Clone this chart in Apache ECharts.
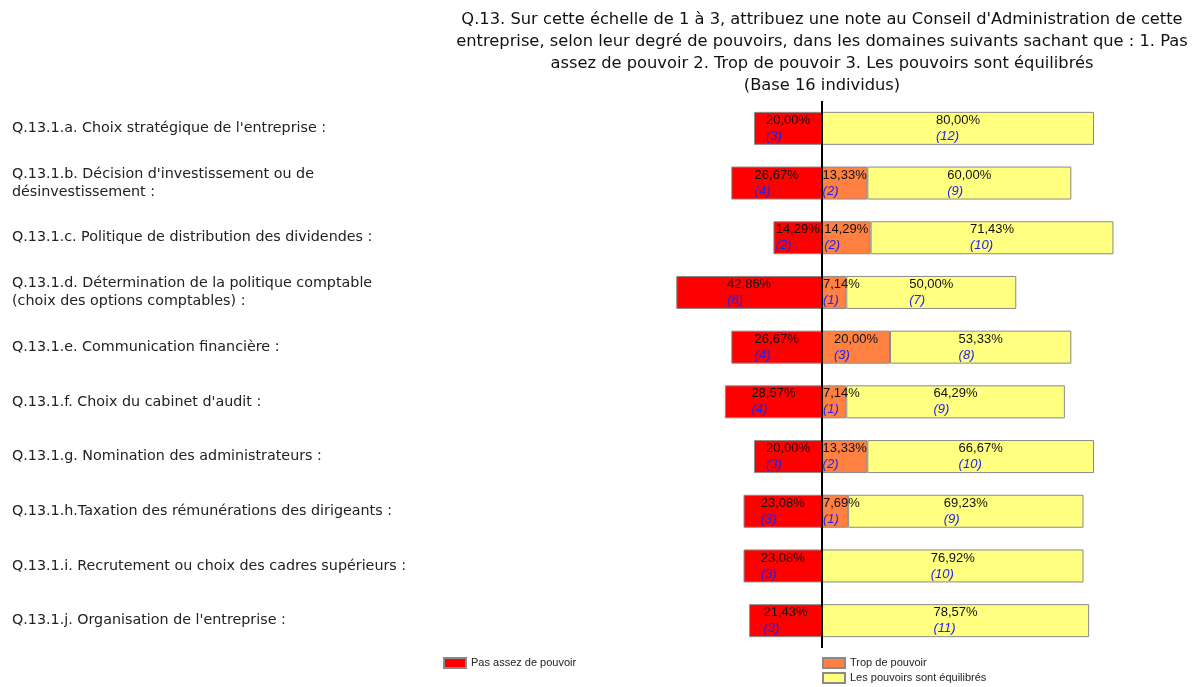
<!DOCTYPE html>
<html>
<head>
<meta charset="utf-8">
<script src="https://cdn.jsdelivr.net/npm/echarts@6/dist/echarts.min.js"></script>
<style>
  html, body { margin: 0; padding: 0; background: #fff; }
  #chart { width: 1192px; height: 687px; }
</style>
</head>
<body>
<div id="chart"></div>
<script>
// Q.13 - pouvoir du Conseil d'Administration (base 16 individus)
var categories = [
  "Q.13.1.a. Choix stratégique de l'entreprise :",
  "Q.13.1.b. Décision d'investissement ou de\ndésinvestissement :",
  "Q.13.1.c. Politique de distribution des dividendes :",
  "Q.13.1.d. Détermination de la politique comptable\n(choix des options comptables) :",
  "Q.13.1.e. Communication financière :",
  "Q.13.1.f. Choix du cabinet d'audit :",
  "Q.13.1.g. Nomination des administrateurs :",
  "Q.13.1.h.Taxation des rémunérations des dirigeants :",
  "Q.13.1.i. Recrutement ou choix des cadres supérieurs :",
  "Q.13.1.j. Organisation de l'entreprise :"
];
var pasAssez = [20.00, 26.67, 14.29, 42.86, 26.67, 28.57, 20.00, 23.08, 23.08, 21.43];
var pasAssezN = [3, 4, 2, 6, 4, 4, 3, 3, 3, 3];
var trop = [0, 13.33, 14.29, 7.14, 20.00, 7.14, 13.33, 7.69, 0, 0];
var tropN = [0, 2, 2, 1, 3, 1, 2, 1, 0, 0];
var equilibre = [80.00, 60.00, 71.43, 50.00, 53.33, 64.29, 66.67, 69.23, 76.92, 78.57];
var equilibreN = [12, 9, 10, 7, 8, 9, 10, 9, 10, 11];

var titleText = "Q.13. Sur cette échelle de 1 à 3, attribuez une note au Conseil d'Administration de cette\n" +
  "entreprise, selon leur degré de pouvoirs, dans les domaines suivants sachant que : 1. Pas\n" +
  "assez de pouvoir 2. Trop de pouvoir 3. Les pouvoirs sont équilibrés\n(Base 16 individus)";

function fmt(v) {
  return v.toFixed(2).replace(".", ",") + "%";
}

// étiquette : pourcentage + effectif en bleu italique, lignes calées à gauche
function makeLabel(values, counts) {
  return {
    show: true,
    position: "inside",
    formatter: function (p) {
      var i = p.dataIndex;
      return "{p|" + fmt(values[i]) + "}\n{n|(" + counts[i] + ")}";
    },
    rich: {
      p: { align: "left", fontSize: 13, color: "#111", fontFamily: "Liberation Sans", lineHeight: 16 },
      n: { align: "left", fontSize: 13, color: "#2222ee", fontStyle: "italic", fontFamily: "Liberation Sans", lineHeight: 16 }
    }
  };
}

var barStyle = function (color) {
  return { color: color, borderColor: "#8a8a8a", borderWidth: 1 };
};

var legendText = { fontFamily: "Liberation Sans", fontSize: 11, color: "#222" };

var myChart = echarts.init(document.getElementById("chart"));

var option = {
  backgroundColor: "#fff",
  animation: false,
  title: {
    text: titleText,
    left: 817,
    top: 4,
    textAlign: "center",
    textStyle: {
      fontFamily: "DejaVu Sans",
      fontSize: 16.3,
      fontWeight: "normal",
      color: "#111",
      lineHeight: 22
    }
  },
  legend: [
    {
      left: 438,
      top: 652,
      itemWidth: 22,
      itemHeight: 10,
      icon: "rect",
      textStyle: legendText,
      data: ["Pas assez de pouvoir"]
    },
    {
      left: 817,
      top: 652,
      itemWidth: 22,
      itemHeight: 10,
      icon: "rect",
      textStyle: legendText,
      data: ["Trop de pouvoir"]
    },
    {
      left: 817,
      top: 667,
      itemWidth: 22,
      itemHeight: 10,
      icon: "rect",
      textStyle: legendText,
      data: ["Les pouvoirs sont équilibrés"]
    }
  ],
  grid: {
    left: 652,
    right: 30,
    top: 101,
    bottom: 39,
    outerBoundsMode: "none"
  },
  xAxis: {
    type: "value",
    min: -50,
    max: 100,
    show: false
  },
  yAxis: {
    type: "category",
    inverse: true,
    data: categories,
    axisLine: { show: false },
    axisTick: { show: false },
    axisLabel: {
      align: "left",
      margin: 640,
      fontFamily: "DejaVu Sans",
      fontSize: 14.3,
      color: "#222",
      lineHeight: 18
    }
  },
  series: [
    {
      name: "Pas assez de pouvoir",
      type: "bar",
      stack: "total",
      barWidth: 33,
      itemStyle: barStyle("#ff0000"),
      label: makeLabel(pasAssez, pasAssezN),
      data: pasAssez.map(function (v) { return -v; }),
      markLine: {
        silent: true,
        symbol: "none",
        label: { show: false },
        lineStyle: { color: "#000", width: 2, type: "solid" },
        data: [{ xAxis: 0 }]
      }
    },
    {
      name: "Trop de pouvoir",
      type: "bar",
      stack: "total",
      barWidth: 33,
      itemStyle: barStyle("#ff8040"),
      label: makeLabel(trop, tropN),
      data: trop.map(function (v) {
        if (!v) return null;
        // segment trop étroit : texte calé à gauche
        if (v < 10) return { value: v, label: { position: "insideLeft", distance: 1 } };
        return v;
      })
    },
    {
      name: "Les pouvoirs sont équilibrés",
      type: "bar",
      stack: "total",
      barWidth: 33,
      itemStyle: barStyle("#ffff80"),
      label: makeLabel(equilibre, equilibreN),
      data: equilibre
    }
  ]
};

myChart.setOption(option, true);
</script>
</body>
</html>
